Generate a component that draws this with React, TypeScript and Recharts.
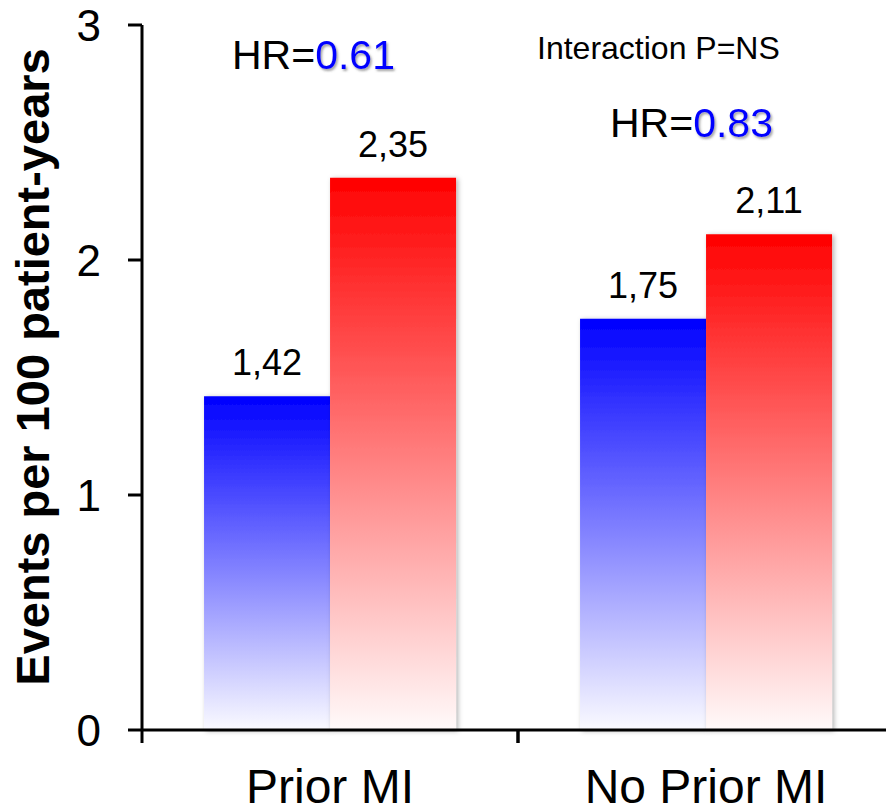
import React from 'react';
import { BarChart, Bar, XAxis, YAxis, LabelList } from 'recharts';

const categories = ['Prior MI', 'No Prior MI'];
const treatedValues = [1.42, 1.75];
const controlValues = [2.35, 2.11];
const yTicks = [0, 1, 2, 3];
const hazardRatios = ['0.61', '0.83'];
const interactionText = 'Interaction P=NS';
const yAxisTitle = 'Events per 100 patient-years';

const data = categories.map((name, i) => ({
  name,
  treated: treatedValues[i],
  control: controlValues[i],
}));

const FONT = '"Liberation Sans", Arial, Helvetica, sans-serif';

// category label at the band centre, tick marks on the band edges (Excel style)
const CategoryTick = (props: any) => {
  const { x, y, payload } = props;
  const half = payload && payload.offset ? payload.offset : 188;
  return (
    <g>
      <line x1={x - half} y1={y} x2={x - half} y2={y + 13} stroke="#000" strokeWidth={3} />
      <line x1={x + half} y1={y} x2={x + half} y2={y + 13} stroke="#000" strokeWidth={3} />
      <text x={x} y={y + 73} textAnchor="middle" fontSize={48} fontFamily={FONT} fill="#000">
        {payload.value}
      </text>
    </g>
  );
};

// "HR=" in black, value in blue with a soft shadow
const HrText = ({ x, y, value }: { x: number; y: number; value: string }) => (
  <g fontFamily={FONT} fontSize={41}>
    <text x={x} y={y} filter="url(#textShadow)">
      <tspan fill="transparent">HR=</tspan>
      <tspan fill="#0000ff">{value}</tspan>
    </text>
    <text x={x} y={y} fill="#000">HR=</text>
  </g>
);

export default function App() {
  return (
    <div style={{ position: 'absolute', left: 0, top: 0, width: 886, height: 809, overflow: 'hidden', background: '#fff' }}>
      <BarChart
        width={900}
        height={809}
        data={data}
        margin={{ top: 25, right: 6, bottom: 0, left: 0 }}
        barCategoryGap="16.5%"
        barGap={0}
      >
        <defs>
          <linearGradient id="blueGrad" x1="0" y1="0" x2="0" y2="1">
            <stop offset="0%" stopColor="#0000ff" />
            <stop offset="100%" stopColor="#fafaff" />
          </linearGradient>
          <linearGradient id="redGrad" x1="0" y1="0" x2="0" y2="1">
            <stop offset="0%" stopColor="#ff0000" />
            <stop offset="100%" stopColor="#fffafa" />
          </linearGradient>
          <filter id="barShadow" x="-10%" y="-5%" width="125%" height="115%">
            <feDropShadow dx="2" dy="1" stdDeviation="2.5" floodColor="#000" floodOpacity="0.3" />
          </filter>
          <filter id="textShadow" x="-10%" y="-20%" width="130%" height="150%">
            <feDropShadow dx="1.5" dy="2" stdDeviation="1.2" floodColor="#555" floodOpacity="0.55" />
          </filter>
        </defs>
        <XAxis
          dataKey="name"
          height={79}
          interval={0}
          axisLine={{ stroke: '#000', strokeWidth: 3 }}
          tickLine={false}
          tickSize={0}
          tickMargin={0}
          tick={<CategoryTick />}
        />
        <YAxis
          domain={[0, 3]}
          ticks={yTicks}
          width={142}
          axisLine={{ stroke: '#000', strokeWidth: 3 }}
          tickLine={{ stroke: '#000', strokeWidth: 3 }}
          tickSize={14}
          tickMargin={27}
          tick={{ fontSize: 44, fill: '#000', fontFamily: FONT }}
        />
        <Bar dataKey="treated" fill="url(#blueGrad)" filter="url(#barShadow)" isAnimationActive={false}>
          <LabelList
            dataKey="treated"
            position="top"
            offset={21}
            formatter={(v: any) => String(v).replace('.', ',')}
            style={{ fill: '#000', fontSize: 36, fontFamily: FONT }}
          />
        </Bar>
        <Bar dataKey="control" fill="url(#redGrad)" filter="url(#barShadow)" isAnimationActive={false}>
          <LabelList
            dataKey="control"
            position="top"
            offset={21}
            formatter={(v: any) => String(v).replace('.', ',')}
            style={{ fill: '#000', fontSize: 36, fontFamily: FONT }}
          />
        </Bar>
        <text
          x={49}
          y={367}
          transform="rotate(-90, 49, 367)"
          textAnchor="middle"
          fontFamily={FONT}
          fontSize={47}
          fontWeight="bold"
          fill="#000"
        >
          {yAxisTitle}
        </text>
        <HrText x={232} y={69} value={hazardRatios[0]} />
        <HrText x={610} y={137} value={hazardRatios[1]} />
        <text x={537} y={59} fontFamily={FONT} fontSize={32} fill="#000">
          {interactionText}
        </text>
      </BarChart>
    </div>
  );
}
